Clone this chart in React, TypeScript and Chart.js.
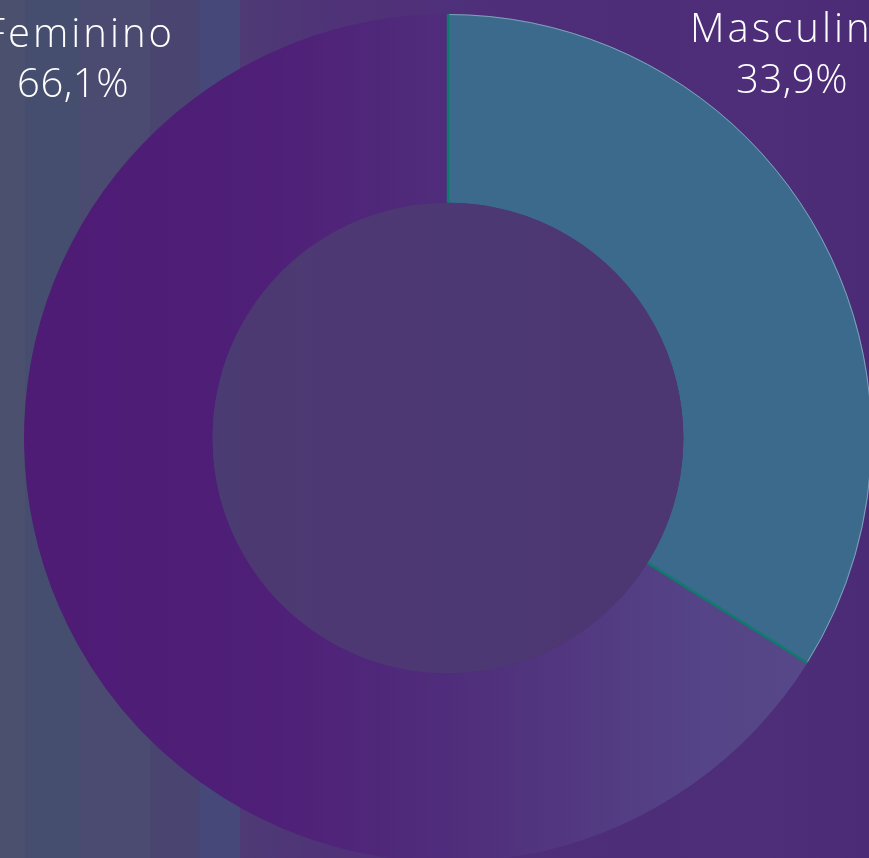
import React, { useEffect, useRef } from "react";
import { Chart, registerables } from "chart.js";

Chart.register(...registerables);

const categories = ["Masculino", "Feminino"];
const values = [33.9, 66.1];
const valueLabels = ["33,9%", "66,1%"];

const W = 869;
const H = 858;

const labelPlugin = {
  id: "sliceLabels",
  afterDatasetsDraw(chart: any) {
    const { ctx } = chart;
    const meta = chart.getDatasetMeta(0);
    const arcM = meta.data[0] as any;
    if (!arcM) return;
    const { x, y, innerRadius, outerRadius, startAngle, endAngle } = arcM.getProps(
      ["x", "y", "innerRadius", "outerRadius", "startAngle", "endAngle"],
      true
    );
    ctx.save();
    // hole tint
    ctx.beginPath();
    ctx.arc(x, y, innerRadius, 0, Math.PI * 2);
    ctx.fillStyle = "rgba(76,58,114,0.85)";
    ctx.fill();
    // faint outer edge of Masculino slice
    ctx.beginPath();
    ctx.arc(x, y, outerRadius - 0.5, startAngle, endAngle);
    ctx.strokeStyle = "rgba(190,205,225,0.55)";
    ctx.lineWidth = 1;
    ctx.stroke();
    // green radial boundaries
    ctx.strokeStyle = "#0e7b6c";
    ctx.lineWidth = 2.5;
    for (const a of [startAngle, endAngle]) {
      ctx.beginPath();
      ctx.moveTo(x + Math.cos(a) * innerRadius, y + Math.sin(a) * innerRadius);
      ctx.lineTo(x + Math.cos(a) * outerRadius, y + Math.sin(a) * outerRadius);
      ctx.stroke();
    }
    // text labels
    ctx.fillStyle = "#ffffff";
    ctx.font = "300 40px 'Open Sans'";
    ctx.textBaseline = "alphabetic";
    // names
    (ctx as any).letterSpacing = "3px";
    ctx.textAlign = "left";
    ctx.fillText(categories[0], 690, 42);
    ctx.textAlign = "right";
    ctx.fillText(categories[1], 175, 47);
    // values
    (ctx as any).letterSpacing = "0.5px";
    ctx.textAlign = "center";
    ctx.fillText(valueLabels[0], 792, 93);
    ctx.fillText(valueLabels[1], 73, 97);
    ctx.restore();
  },
};

export default function App() {
  const ref = useRef<HTMLCanvasElement>(null);
  useEffect(() => {
    document.body.style.margin = "0";
    document.body.style.overflow = "hidden";
    const canvas = ref.current!;
    const chart = new Chart(canvas, {
      type: "doughnut",
      data: {
        labels: categories,
        datasets: [
          {
            data: values,
            borderWidth: 0,
            backgroundColor: (c: any) => {
              if (c.dataIndex === 0) return "#3b6a8d";
              const { chart } = c;
              const area = chart.chartArea;
              if (!area) return "#4f2277";
              const g = chart.ctx.createLinearGradient(area.left, 0, area.right, 0);
              g.addColorStop(0, "#4e1b75");
              g.addColorStop(0.3, "#4f2078");
              g.addColorStop(0.55, "#50307c");
              g.addColorStop(0.8, "#554487");
              g.addColorStop(1, "#574a8a");
              return g;
            },
          },
        ],
      },
      options: {
        responsive: false,
        animation: false,
        devicePixelRatio: 1,
        cutout: "55.5%",
        layout: { padding: { left: 24, top: 14, right: 28, bottom: 38 } },
        plugins: { legend: { display: false }, tooltip: { enabled: false } },
      },
      plugins: [labelPlugin],
    });
    return () => chart.destroy();
  }, []);

  const bg =
    "linear-gradient(to right, #4a506e 0px, #4a506e 25px, #464e70 25px, #464e70 80px, #4b4a70 80px, #4b4a70 150px, #4a4570 150px, #4a4570 200px, #464879 200px, #464879 240px, #4e3a74 240px, #4f3378 330px, #4f3079 420px, #4e2e79 520px, #4d2c78 640px, #4e2d79 760px, #4c2b76 869px)";

  return (
    <div
      style={{
        position: "fixed",
        left: 0,
        top: 0,
        width: W,
        height: H,
        overflow: "hidden",
        background: bg,
      }}
    >
      <canvas
        ref={ref}
        width={900}
        height={900}
        style={{ position: "absolute", left: 0, top: 0, width: 900, height: 900 }}
      />
    </div>
  );
}
